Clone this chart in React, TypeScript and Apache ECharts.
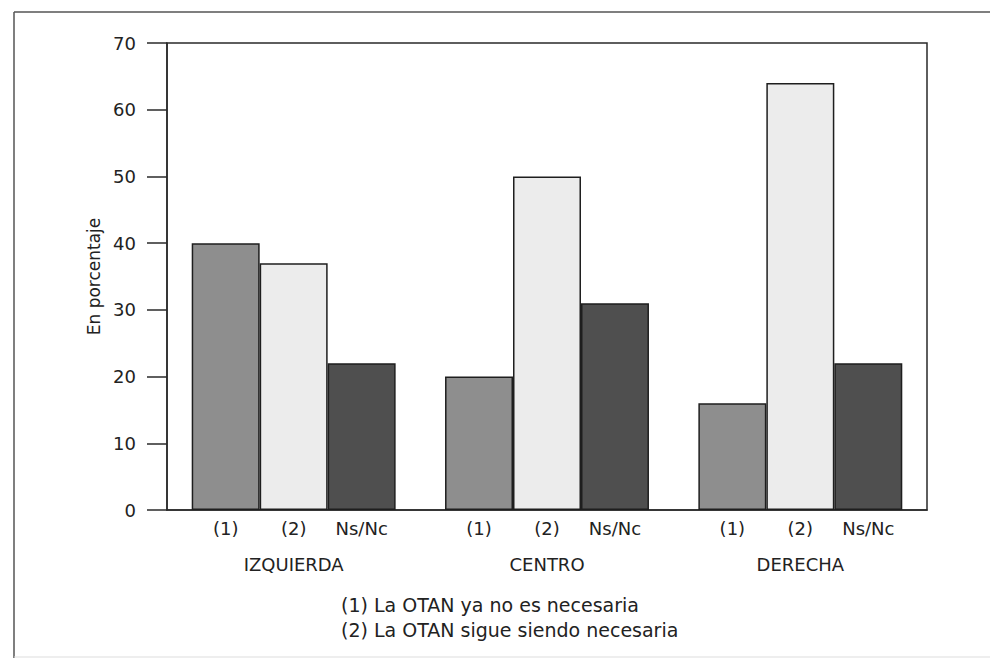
import React, { useEffect, useRef } from "react";
import * as echarts from "echarts";

const groups = ["IZQUIERDA", "CENTRO", "DERECHA"];
const seriesNames = ["(1)", "(2)", "Ns/Nc"];
const values1 = [40, 20, 16];
const values2 = [37, 50, 64];
const valuesNs = [22, 31, 22];
const barColors = ["#8e8e8e", "#ececec", "#4f4f4f"];
const yTicks = { min: 0, max: 70, interval: 10 };
const yName = "En porcentaje";
const notes = ["(1) La OTAN ya no es necesaria", "(2) La OTAN sigue siendo necesaria"];

const FONT = "'DejaVu Sans', 'Noto Sans', sans-serif";

export default function App() {
  const ref = useRef<HTMLDivElement>(null);
  useEffect(() => {
    if (!ref.current) return;
    const chart = echarts.init(ref.current, undefined, { renderer: "svg" });
    const allValues = [values1, values2, valuesNs];
    chart.setOption({
      animation: false,
      backgroundColor: "#ffffff",
      textStyle: { fontFamily: FONT },
      grid: {
        left: 167,
        top: 43,
        width: 760,
        height: 467,
        show: true,
        borderColor: "#2a2a2a",
        borderWidth: 1.5,
        backgroundColor: "transparent",
      },
      xAxis: {
        type: "category",
        data: groups,
        axisLine: { show: true, lineStyle: { color: "#2a2a2a", width: 1.5 } },
        axisTick: { show: false },
        axisLabel: { margin: 45, fontSize: 18, color: "#222", fontFamily: FONT },
      },
      yAxis: {
        type: "value",
        min: yTicks.min,
        max: yTicks.max,
        interval: yTicks.interval,
        name: yName,
        nameLocation: "middle",
        nameGap: 64,
        nameRotate: 90,
        nameTextStyle: { fontSize: 17, color: "#222", fontFamily: FONT },
        axisLine: { show: true, lineStyle: { color: "#2a2a2a", width: 1.5 } },
        axisTick: { show: true, inside: false, length: 20, lineStyle: { color: "#2a2a2a", width: 1.5 } },
        axisLabel: { margin: 31, fontSize: 18, color: "#222", fontFamily: FONT },
        splitLine: { show: false },
      },
      series: seriesNames.map((name, i) => ({
        type: "bar",
        name,
        data: allValues[i],
        barGap: "0%",
        barCategoryGap: "19.5%",
        itemStyle: { color: barColors[i], borderColor: "#1e1e1e", borderWidth: 1.5 },
        label: {
          show: true,
          position: "bottom",
          distance: 9,
          formatter: () => name,
          fontSize: 18,
          color: "#222",
          fontFamily: FONT,
        },
      })),
      graphic: [
        { type: "line", shape: { x1: 14, y1: 12, x2: 990, y2: 12 }, style: { stroke: "#555", lineWidth: 1.5 } },
        { type: "line", shape: { x1: 14, y1: 12, x2: 14, y2: 658 }, style: { stroke: "#555", lineWidth: 1.5 } },
        { type: "line", shape: { x1: 14, y1: 657, x2: 990, y2: 657 }, style: { stroke: "#ddd", lineWidth: 1 } },
        ...notes.map((t, i) => ({
          type: "text",
          left: 341,
          top: 595 + i * 25,
          style: { text: t, fontSize: 19, fill: "#222", fontFamily: FONT },
        })),
      ],
    });
    return () => chart.dispose();
  }, []);
  return (
    <div
      ref={ref}
      style={{ position: "fixed", left: 0, top: 0, width: 990, height: 661, background: "#fff" }}
    />
  );
}
